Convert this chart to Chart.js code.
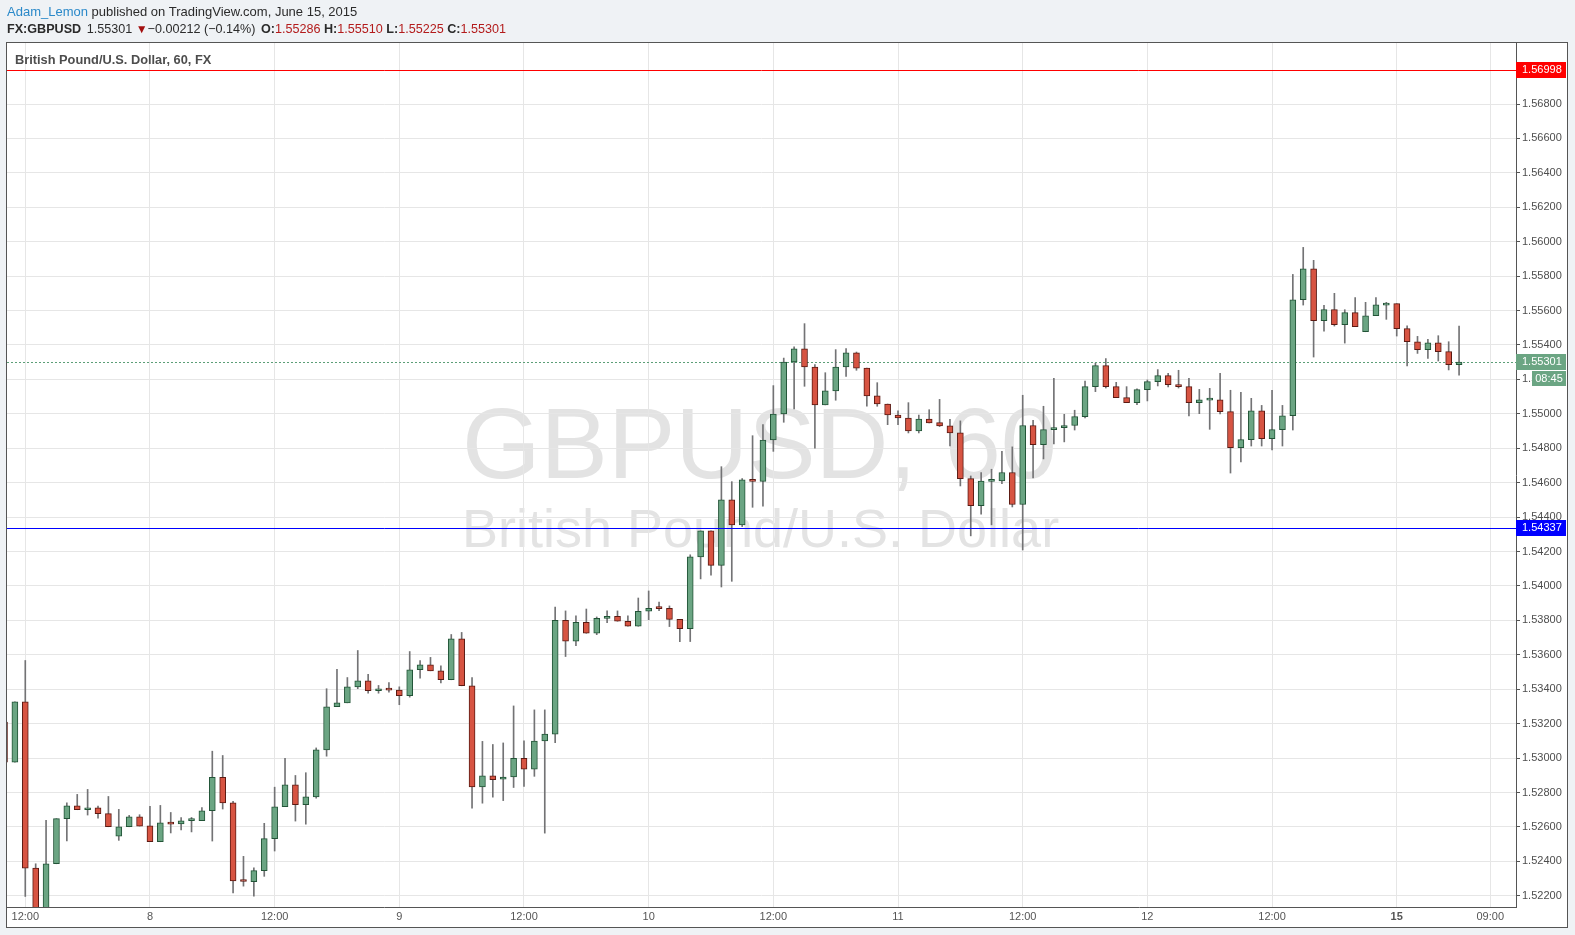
<!DOCTYPE html>
<html lang="en">

<head>
  <meta charset="UTF-8">
  <title>FX:GBPUSD, 60</title>
  <script src="https://cdn.jsdelivr.net/npm/chart.js"></script>
  <style>
    body {
      margin: 0;
      background: #eff2f5;
      font-family: "Liberation Sans", Arial, sans-serif;
    }

    #wrap {
      position: relative;
      width: 1575px;
      height: 935px;
    }

    #chart {
      position: absolute;
      left: 0;
      top: 0;
    }

    .hdr {
      position: absolute;
      left: 7px;
      font-size: 13px;
      line-height: 15px;
      color: #2b2b2b;
      white-space: nowrap;
    }

    #line1 { top: 4px; }
    #line2 { top: 22px; font-size: 12.6px; }
    .user { color: #2a89c9; }
    .b { font-weight: bold; }
    .r { color: #b31b1b; }
    .tri { color: #a30f0f; font-size: 12px; }
    .gap { margin-left: 2px; }
  </style>
</head>

<body>
  <div id="wrap">
    <canvas id="chart" width="1575" height="935"></canvas>
    <div class="hdr" id="line1"><span class="user">Adam_Lemon</span> published on TradingView.com, June 15, 2015</div>
    <div class="hdr" id="line2"><span class="b">FX:GBPUSD</span> <span class="gap">1.55301</span> <span class="tri">&#9660;</span>&#8722;0.00212 (&#8722;0.14%) <span class="b gap">O:</span><span class="r">1.55286</span> <span class="b">H:</span><span class="r">1.55510</span> <span class="b">L:</span><span class="r">1.55225</span> <span class="b">C:</span><span class="r">1.55301</span></div>
  </div>

  <script>
    // hourly candles, first one is index -1 (cut by the left edge)
    var firstIndex = -1;

    var opens = [1.53209,
      1.52976, 1.53327, 1.52361, 1.52080, 1.52386, 1.52648, 1.52723, 1.52700, 1.52711, 1.52677,
      1.52547, 1.52601, 1.52659, 1.52607, 1.52514, 1.52624, 1.52618, 1.52637, 1.52637, 1.52694,
      1.52888, 1.52740, 1.52289, 1.52282, 1.52346, 1.52532, 1.52717, 1.52845, 1.52729, 1.52775,
      1.53048, 1.53298, 1.53321, 1.53414, 1.53449, 1.53391, 1.53403, 1.53395, 1.53362, 1.53513,
      1.53542, 1.53507, 1.53455, 1.53693, 1.53420, 1.52833, 1.52897, 1.52877, 1.52890, 1.52999,
      1.52935, 1.53099, 1.53139, 1.53801, 1.53679, 1.53789, 1.53725, 1.53812, 1.53824, 1.53795,
      1.53766, 1.53853, 1.53872, 1.53870, 1.53806, 1.53752, 1.54169, 1.54320, 1.54120, 1.54500,
      1.54355, 1.54616, 1.54608, 1.54848, 1.54999, 1.55301, 1.55377, 1.55272, 1.55052, 1.55133,
      1.55272, 1.55354, 1.55266, 1.55104, 1.55057, 1.54993, 1.54976, 1.54901, 1.54970, 1.54949,
      1.54930, 1.54889, 1.54624, 1.54467, 1.54608, 1.54610, 1.54659, 1.54473, 1.54932, 1.54821,
      1.54908, 1.54920, 1.54932, 1.54984, 1.55158, 1.55280, 1.55158, 1.55094, 1.55065, 1.55141,
      1.55187, 1.55222, 1.55170, 1.55158, 1.55065, 1.55080, 1.55082, 1.55013, 1.54804, 1.54850,
      1.55018, 1.54856, 1.54908, 1.54989, 1.55663, 1.55843, 1.55541, 1.55605, 1.55518, 1.55588,
      1.55477, 1.55570, 1.55632, 1.55640, 1.55495, 1.55419, 1.55373, 1.55413, 1.55361, 1.55286];

    var highs = [1.53209,
      1.53327, 1.53567, 1.52386, 1.52638, 1.52648, 1.52740, 1.52789, 1.52818, 1.52721, 1.52777,
      1.52702, 1.52667, 1.52671, 1.52719, 1.52725, 1.52684, 1.52655, 1.52655, 1.52713, 1.53040,
      1.53015, 1.52748, 1.52429, 1.52363, 1.52621, 1.52831, 1.52998, 1.52899, 1.52915, 1.53059,
      1.53403, 1.53515, 1.53468, 1.53625, 1.53486, 1.53422, 1.53439, 1.53414, 1.53619, 1.53567,
      1.53585, 1.53536, 1.53718, 1.53730, 1.53468, 1.53097, 1.53079, 1.53088, 1.53303, 1.53100,
      1.53280, 1.53280, 1.53878, 1.53855, 1.53826, 1.53866, 1.53820, 1.53855, 1.53855, 1.53826,
      1.53930, 1.53971, 1.53907, 1.53884, 1.53806, 1.54181, 1.54320, 1.54320, 1.54693, 1.54606,
      1.54624, 1.54873, 1.54937, 1.55164, 1.55324, 1.55390, 1.55524, 1.55286, 1.55239, 1.55373,
      1.55379, 1.55359, 1.55266, 1.55181, 1.55057, 1.55017, 1.55065, 1.54993, 1.55024, 1.55084,
      1.54968, 1.54959, 1.54639, 1.54659, 1.54678, 1.54782, 1.54808, 1.55108, 1.54962, 1.55044,
      1.55206, 1.54997, 1.55021, 1.55190, 1.55294, 1.55321, 1.55183, 1.55158, 1.55146, 1.55197,
      1.55257, 1.55235, 1.55253, 1.55206, 1.55142, 1.55148, 1.55235, 1.55137, 1.55125, 1.55090,
      1.55049, 1.55137, 1.55049, 1.55810, 1.55967, 1.55892, 1.55630, 1.55700, 1.55605, 1.55675,
      1.55648, 1.55675, 1.55648, 1.55640, 1.55512, 1.55450, 1.55433, 1.55454, 1.55419, 1.55510];

    var lows = [1.52976,
      1.52976, 1.52196, 1.52020, 1.52040, 1.52386, 1.52518, 1.52700, 1.52669, 1.52651, 1.52601,
      1.52522, 1.52601, 1.52605, 1.52514, 1.52514, 1.52565, 1.52582, 1.52571, 1.52637, 1.52518,
      1.52704, 1.52216, 1.52256, 1.52198, 1.52313, 1.52460, 1.52717, 1.52634, 1.52616, 1.52767,
      1.53011, 1.53298, 1.53321, 1.53403, 1.53377, 1.53377, 1.53383, 1.53310, 1.53354, 1.53464,
      1.53507, 1.53437, 1.53455, 1.53420, 1.52709, 1.52738, 1.52773, 1.52753, 1.52829, 1.52835,
      1.52894, 1.52564, 1.53090, 1.53590, 1.53653, 1.53725, 1.53717, 1.53787, 1.53795, 1.53766,
      1.53766, 1.53804, 1.53857, 1.53764, 1.53677, 1.53677, 1.54041, 1.54062, 1.53994, 1.54027,
      1.54345, 1.54457, 1.54463, 1.54782, 1.54951, 1.55028, 1.55160, 1.54800, 1.55052, 1.55079,
      1.55218, 1.55253, 1.55044, 1.55044, 1.54937, 1.54937, 1.54889, 1.54889, 1.54947, 1.54926,
      1.54813, 1.54581, 1.54291, 1.54417, 1.54355, 1.54595, 1.54459, 1.54209, 1.54628, 1.54738,
      1.54825, 1.54837, 1.54906, 1.54976, 1.55129, 1.55150, 1.55094, 1.55065, 1.55053, 1.55075,
      1.55162, 1.55156, 1.55150, 1.54988, 1.55001, 1.54910, 1.54999, 1.54656, 1.54720, 1.54813,
      1.54813, 1.54790, 1.54813, 1.54906, 1.55632, 1.55330, 1.55481, 1.55510, 1.55411, 1.55506,
      1.55477, 1.55570, 1.55549, 1.55452, 1.55278, 1.55351, 1.55322, 1.55307, 1.55255, 1.55225];

    var closes = [1.52976,
      1.53327, 1.52361, 1.52080, 1.52386, 1.52648, 1.52723, 1.52700, 1.52711, 1.52677, 1.52601,
      1.52601, 1.52659, 1.52605, 1.52514, 1.52624, 1.52616, 1.52635, 1.52639, 1.52694, 1.52888,
      1.52740, 1.52287, 1.52283, 1.52346, 1.52532, 1.52717, 1.52845, 1.52729, 1.52775, 1.53048,
      1.53298, 1.53321, 1.53414, 1.53449, 1.53391, 1.53403, 1.53395, 1.53362, 1.53513, 1.53542,
      1.53507, 1.53455, 1.53693, 1.53420, 1.52833, 1.52897, 1.52874, 1.52890, 1.52999, 1.52935,
      1.53099, 1.53139, 1.53801, 1.53679, 1.53789, 1.53725, 1.53812, 1.53824, 1.53795, 1.53766,
      1.53853, 1.53870, 1.53868, 1.53806, 1.53752, 1.54169, 1.54320, 1.54120, 1.54500, 1.54355,
      1.54616, 1.54608, 1.54848, 1.54999, 1.55301, 1.55377, 1.55272, 1.55052, 1.55133, 1.55272,
      1.55354, 1.55266, 1.55104, 1.55057, 1.54993, 1.54976, 1.54901, 1.54970, 1.54947, 1.54930,
      1.54889, 1.54624, 1.54467, 1.54610, 1.54612, 1.54659, 1.54473, 1.54932, 1.54821, 1.54908,
      1.54920, 1.54932, 1.54984, 1.55158, 1.55280, 1.55158, 1.55094, 1.55065, 1.55141, 1.55187,
      1.55222, 1.55170, 1.55158, 1.55065, 1.55082, 1.55083, 1.55013, 1.54804, 1.54850, 1.55018,
      1.54856, 1.54908, 1.54989, 1.55663, 1.55843, 1.55541, 1.55605, 1.55518, 1.55588, 1.55506,
      1.55570, 1.55634, 1.55640, 1.55495, 1.55419, 1.55373, 1.55413, 1.55361, 1.55286, 1.55301];

    var timeTickPos = [1, 13, 25, 37, 49, 61, 73, 85, 97, 109, 121, 133, 142];
    var timeTickLabels = ['12:00', '8', '12:00', '9', '12:00', '10', '12:00', '11', '12:00', '12', '12:00', '15', '09:00'];
    var priceTicks = [1.522, 1.524, 1.526, 1.528, 1.530, 1.532, 1.534, 1.536, 1.538, 1.540, 1.542, 1.544,
      1.546, 1.548, 1.550, 1.552, 1.554, 1.556, 1.558, 1.560, 1.562, 1.564, 1.566, 1.568];

    var resistance = 1.56998;
    var support = 1.54337;
    var lastPrice = closes[closes.length - 1];
    var countdown = '08:45';

    var UP_FILL = '#6ba583', UP_LINE = '#225437';
    var DOWN_FILL = '#d75442', DOWN_LINE = '#5b1a13';
    var AXIS_FONT = '"Liberation Sans", Arial, sans-serif';

    var bodyData = [], wickData = [], fills = [], lines = [];
    for (var k = 0; k < opens.length; k++) {
      var up = closes[k] >= opens[k];
      bodyData.push({ x: firstIndex + k, y: [opens[k], closes[k]] });
      wickData.push({ x: firstIndex + k, y: [lows[k], highs[k]] });
      fills.push(up ? UP_FILL : DOWN_FILL);
      lines.push(up ? UP_LINE : DOWN_LINE);
    }

    function priceBox(ctx, chart, value, bg, text) {
      var y = chart.scales.y.getPixelForValue(value);
      var x0 = chart.chartArea.right;
      ctx.fillStyle = bg;
      ctx.fillRect(x0, Math.round(y) - 8, 50, 16);
      ctx.fillStyle = '#ffffff';
      ctx.font = '11px ' + AXIS_FONT;
      ctx.textAlign = 'left';
      ctx.textBaseline = 'middle';
      ctx.fillText(text, x0 + 6, Math.round(y));
    }

    function hLine(ctx, chart, value, color, dash) {
      var y = Math.round(chart.scales.y.getPixelForValue(value)) + 0.5;
      ctx.save();
      ctx.strokeStyle = color;
      ctx.lineWidth = 1;
      ctx.setLineDash(dash);
      ctx.beginPath();
      ctx.moveTo(chart.chartArea.left, y);
      ctx.lineTo(chart.chartArea.right, y);
      ctx.stroke();
      ctx.restore();
    }

    var decorations = {
      id: 'decorations',
      beforeDraw: function (chart) {
        var ctx = chart.ctx;
        ctx.save();
        ctx.fillStyle = '#ffffff';
        ctx.fillRect(7, 43, 1561, 885);
        // watermark
        var cx = (chart.chartArea.left + chart.chartArea.right) / 2;
        ctx.fillStyle = '#e3e3e3';
        ctx.textAlign = 'center';
        ctx.textBaseline = 'alphabetic';
        ctx.font = '101px "Liberation Sans", Arial, sans-serif';
        ctx.fillText('GBPUSD, 60', cx - 2, 478);
        ctx.font = '54px "Liberation Sans", Arial, sans-serif';
        ctx.fillText('British Pound/U.S. Dollar', cx - 1, 547);
        ctx.restore();
      },
      beforeDatasetsDraw: function (chart) {
        hLine(chart.ctx, chart, lastPrice, '#5c9e77', [2, 2]);
      },
      afterDatasetsDraw: function (chart) {
        hLine(chart.ctx, chart, resistance, '#ff0000', []);
        hLine(chart.ctx, chart, support, '#0000ff', []);
      },
      afterDraw: function (chart) {
        var ctx = chart.ctx;
        ctx.save();
        // symbol title
        ctx.fillStyle = '#4d4d4d';
        ctx.font = 'bold 12.8px "Liberation Sans", Arial, sans-serif';
        ctx.textAlign = 'left';
        ctx.textBaseline = 'middle';
        ctx.fillText('British Pound/U.S. Dollar, 60, FX', 15, 60);

        priceBox(ctx, chart, resistance, '#ff0000', resistance.toFixed(5));
        priceBox(ctx, chart, support, '#0000ff', support.toFixed(5));
        priceBox(ctx, chart, lastPrice, '#6ba583', lastPrice.toFixed(5));

        // countdown box under the last price
        var y = Math.round(chart.scales.y.getPixelForValue(lastPrice));
        ctx.fillStyle = '#6ba583';
        ctx.fillRect(1532, y + 9, 34, 15);
        ctx.fillStyle = '#ffffff';
        ctx.textAlign = 'center';
        ctx.fillText(countdown, 1549, y + 17);

        // outer frame
        ctx.strokeStyle = '#555555';
        ctx.lineWidth = 1;
        ctx.strokeRect(6.5, 42.5, 1561, 885);
        ctx.restore();
      }
    };

    var ctx = document.getElementById('chart').getContext('2d');
    var myChart = new Chart(ctx, {
      type: 'bar',
      data: {
        datasets: [{
          label: 'Bodies',
          data: bodyData,
          backgroundColor: fills,
          borderColor: lines,
          borderWidth: 1,
          borderSkipped: false,
          barThickness: 6,
          minBarLength: 2,
          grouped: false,
          order: 0
        }, {
          label: 'Wicks',
          data: wickData,
          backgroundColor: '#737375',
          borderWidth: 0,
          barThickness: 1,
          minBarLength: 1,
          grouped: false,
          order: 1
        }]
      },
      options: {
        responsive: false,
        animation: false,
        devicePixelRatio: 1,
        layout: {
          padding: { left: 7, top: 43, right: 7, bottom: 7 }
        },
        plugins: {
          legend: { display: false },
          tooltip: { enabled: false }
        },
        scales: {
          x: {
            type: 'linear',
            min: -0.76,
            max: 144.48,
            offset: false,
            afterBuildTicks: function (scale) {
              scale.ticks = timeTickPos.map(function (v) { return { value: v }; });
            },
            afterFit: function (scale) {
              scale.height = 21;
            },
            grid: {
              color: '#e6e6e6',
              drawTicks: false,
              offset: false
            },
            border: { color: '#555555' },
            ticks: {
              autoSkip: false,
              maxRotation: 0,
              padding: 3,
              color: '#555555',
              font: function (c) {
                return { family: AXIS_FONT, size: 11, weight: c.index === 11 ? 'bold' : 'normal' };
              },
              callback: function (value, index) {
                return timeTickLabels[index];
              }
            }
          },
          y: {
            type: 'linear',
            position: 'right',
            min: 1.521348,
            max: 1.571545,
            afterBuildTicks: function (scale) {
              scale.ticks = priceTicks.map(function (v) { return { value: v }; });
            },
            afterFit: function (scale) {
              scale.width = 52;
            },
            grid: {
              color: '#e6e6e6',
              tickColor: '#555555',
              tickLength: 4,
              drawTicks: true
            },
            border: { color: '#555555' },
            ticks: {
              autoSkip: false,
              padding: 2,
              color: '#4d4d4d',
              font: { family: AXIS_FONT, size: 11 },
              callback: function (value) {
                return value.toFixed(5);
              }
            }
          }
        }
      },
      plugins: [decorations]
    });
  </script>
</body>

</html>
